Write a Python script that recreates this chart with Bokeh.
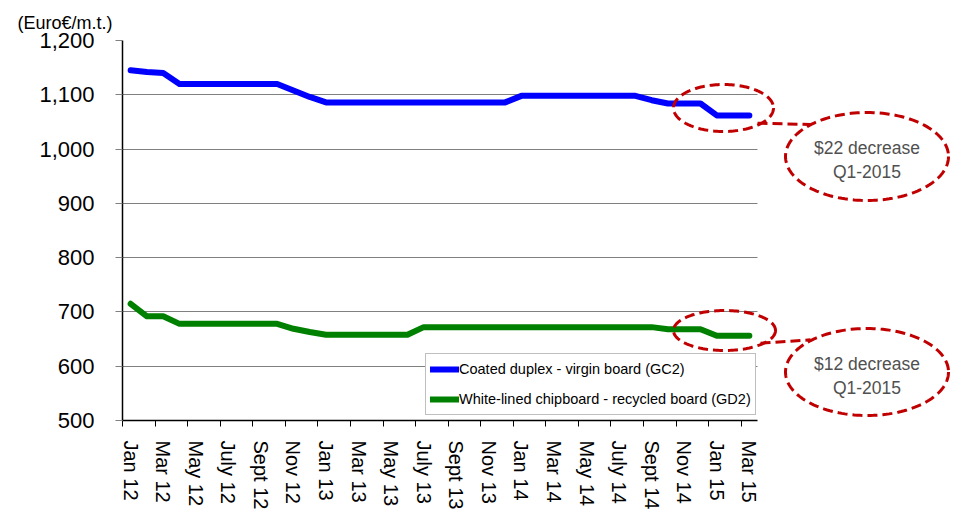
from bokeh.plotting import figure
from bokeh.models import (FixedTicker, NumeralTickFormatter, Legend, LegendItem,
                          PolyAnnotation, Arrow, Label)
from bokeh.embed import file_html
from bokeh.resources import INLINE
import numpy as np

# Monthly board prices, Jan 2012 - Mar 2015 (Euro per metric tonne)
months = ["Jan 12", "Feb 12", "Mar 12", "Apr 12", "May 12", "Jun 12", "Jul 12", "Aug 12",
          "Sep 12", "Oct 12", "Nov 12", "Dec 12",
          "Jan 13", "Feb 13", "Mar 13", "Apr 13", "May 13", "Jun 13", "Jul 13", "Aug 13",
          "Sep 13", "Oct 13", "Nov 13", "Dec 13",
          "Jan 14", "Feb 14", "Mar 14", "Apr 14", "May 14", "Jun 14", "Jul 14", "Aug 14",
          "Sep 14", "Oct 14", "Nov 14", "Dec 14",
          "Jan 15", "Feb 15", "Mar 15"]

gc2 = [1145, 1142, 1140, 1120, 1120, 1120, 1120, 1120, 1120, 1120, 1108, 1096,
       1086, 1086, 1086, 1086, 1086, 1086, 1086, 1086, 1086, 1086, 1086, 1086,
       1098, 1098, 1098, 1098, 1098, 1098, 1098, 1098, 1090, 1084, 1084, 1084,
       1062, 1062, 1062]

gd2 = [715, 692, 692, 678, 678, 678, 678, 678, 678, 678, 669, 663,
       658, 658, 658, 658, 658, 658, 672, 672, 672, 672, 672, 672,
       672, 672, 672, 672, 672, 672, 672, 672, 672, 668, 668, 668,
       656, 656, 656]

tick_labels = ["Jan 12", "Mar 12", "May 12", "July 12", "Sept 12", "Nov 12",
               "Jan 13", "Mar 13", "May 13", "July 13", "Sept 13", "Nov 13",
               "Jan 14", "Mar 14", "May 14", "July 14", "Sept 14", "Nov 14",
               "Jan 15", "Mar 15"]

series_names = ["Coated duplex - virgin board (GC2)",
                "White-lined chipboard - recycled board (GD2)"]

callouts = ["$22 decrease\nQ1-2015", "$12 decrease\nQ1-2015"]

FONT = "Liberation Sans"
x = list(range(len(months)))

# geometry: the data area is 635px wide; the frame runs on to the right edge so
# the callouts beside the chart can be drawn in data space
W, H = 953, 512
LEFT, TOP, BOTTOM = 122, 40, 92
DATA_W = 635.0
UNIT = DATA_W / len(months)
x_end = -0.5 + (W - LEFT) / UNIT
data_bounds = (-0.5, len(months) - 0.5)

p = figure(width=W, height=H, x_range=(-0.5, x_end), y_range=(500, 1200),
           output_backend="svg", toolbar_location=None,
           min_border_left=LEFT, min_border_right=0, min_border_top=TOP,
           min_border_bottom=BOTTOM)
p.outline_line_color = None
p.background_fill_color = "white"
p.border_fill_color = "white"

# unit caption above the axis
p.title.text = "(Euro€/m.t.)"
p.title.align = "left"
p.title.offset = -105
p.title.text_font = FONT
p.title.text_font_size = "18px"
p.title.text_font_style = "normal"
p.title.text_color = "black"
p.title.standoff = 15

# horizontal gridlines only, limited to the data area
p.xgrid.visible = False
p.ygrid.grid_line_color = "#808080"
p.ygrid.grid_line_width = 1
p.ygrid.cross_bounds = data_bounds

# y axis
p.yaxis.ticker = FixedTicker(ticks=list(range(500, 1201, 100)))
p.yaxis.formatter = NumeralTickFormatter(format="0,0")
p.yaxis.major_label_text_font = FONT
p.yaxis.major_label_text_font_size = "22px"
p.yaxis.major_label_text_color = "black"
p.yaxis.major_tick_in = 0
p.yaxis.major_tick_out = 7
p.yaxis.major_tick_line_color = "#808080"
p.yaxis.minor_tick_line_color = None
p.yaxis.axis_line_color = "black"
p.yaxis.axis_line_width = 1.5
p.yaxis.major_label_standoff = 21

# x axis: labels every other month, tick marks on category boundaries
label_pos = list(range(0, len(months), 2))
p.xaxis.bounds = data_bounds
p.xaxis.ticker = FixedTicker(ticks=label_pos,
                             minor_ticks=[i - 0.5 for i in label_pos])
p.xaxis.major_label_overrides = {pos: lab for pos, lab in zip(label_pos, tick_labels)}
p.xaxis.major_label_orientation = "vertical"
p.xaxis.major_label_text_font = FONT
p.xaxis.major_label_text_font_size = "20px"
p.xaxis.major_label_text_color = "black"
p.xaxis.major_tick_in = 0
p.xaxis.major_tick_out = 0
p.xaxis.minor_tick_in = 0
p.xaxis.minor_tick_out = 6
p.xaxis.minor_tick_line_color = "black"
p.xaxis.axis_line_color = "black"
p.xaxis.axis_line_width = 1.5
p.xaxis.major_label_standoff = 14

r1 = p.line(x, gc2, line_color="#0000FF", line_width=6, line_cap="round", line_join="round")
r2 = p.line(x, gd2, line_color="#008000", line_width=6, line_cap="round", line_join="round")

legend = Legend(items=[LegendItem(label=series_names[0], renderers=[r1]),
                       LegendItem(label=series_names[1], renderers=[r2])],
                location=(303, 5))
legend.label_text_font = FONT
legend.label_text_font_size = "14.5px"
legend.label_text_color = "black"
legend.glyph_width = 29
legend.glyph_height = 22
legend.label_height = 22
legend.label_standoff = 0
legend.spacing = 8
legend.padding = 4
legend.margin = 0
legend.border_line_color = "#808080"
legend.border_line_width = 1
legend.background_fill_color = "white"
legend.background_fill_alpha = 1
p.add_layout(legend)

# pixel helpers for placing the callout decorations
PX_LEFT, PX_TOP, PX_H = float(LEFT), float(TOP), float(H - TOP - BOTTOM)
def px2x(px):
    return (px - PX_LEFT) / UNIT - 0.5
def py2y(py):
    return 1200 - (py - PX_TOP) * 700 / PX_H
def ellipse(cx, cy, w, h, n=160):
    t = np.linspace(0, 2 * np.pi, n, endpoint=False)
    xs = [px2x(cx + w / 2 * np.cos(a)) for a in t]
    ys = [py2y(cy + h / 2 * np.sin(a)) for a in t]
    return xs, ys

RED = "#C00000"
def dashed_ellipse(cx, cy, w, h):
    xs, ys = ellipse(cx, cy, w, h)
    p.add_layout(PolyAnnotation(xs=xs, ys=ys, xs_units="data", ys_units="data",
                                fill_color=None, fill_alpha=0, line_color=RED,
                                line_alpha=1, line_width=3, line_dash="10 5"))

def connector(x0, y0, x1, y1):
    p.add_layout(Arrow(end=None, x_start=px2x(x0), y_start=py2y(y0),
                       x_end=px2x(x1), y_end=py2y(y1),
                       line_color=RED, line_width=3, line_dash="10 5"))

def callout_text(cx, cy, text):
    lines = text.split("\n")
    for k, ln in enumerate(lines):
        p.add_layout(Label(x=px2x(cx), y=py2y(cy + (k - (len(lines) - 1) / 2) * 24.5),
                           text=ln, text_align="center", text_baseline="middle",
                           text_font=FONT, text_font_size="17.5px",
                           text_color="#505050"))

# GC2 drop
dashed_ellipse(723, 107.5, 100, 47)
connector(757, 122.7, 810, 124)
dashed_ellipse(866.5, 156, 163, 88)
callout_text(866.5, 159.5, callouts[0])

# GD2 drop
dashed_ellipse(724, 330, 102, 40)
connector(760, 342.7, 810, 339.3)
dashed_ellipse(866.5, 371.5, 163, 87)
callout_text(866.5, 375.3, callouts[1])

open("out.html", "w").write(file_html(p, INLINE))
